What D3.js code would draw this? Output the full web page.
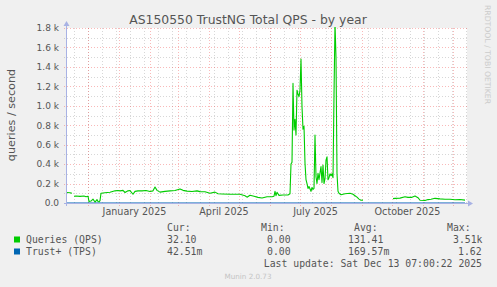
<!DOCTYPE html>
<html>
<head>
<meta charset="utf-8">
<script src="https://cdn.jsdelivr.net/npm/d3@7"></script>
<style>
  html, body { margin: 0; padding: 0; background: #f0f0f0; }
  svg { display: block; }
</style>
</head>
<body>
<div id="chart"></div>
<script>
// Queries (QPS), daily averages (null = no data)
const qpsDates = [
  "2024-11-10","2024-11-13","2024-11-15","2024-11-16","2024-11-17","2024-11-19","2024-11-23","2024-11-27","2024-11-29",
  "2024-12-01","2024-12-02","2024-12-04","2024-12-06","2024-12-08","2024-12-10","2024-12-11","2024-12-12","2024-12-13",
  "2024-12-14","2024-12-18","2024-12-23","2024-12-28","2024-12-31","2025-01-02","2025-01-05","2025-01-07","2025-01-10",
  "2025-01-12","2025-01-15","2025-01-17","2025-01-20","2025-01-24","2025-01-28","2025-02-01","2025-02-04","2025-02-06",
  "2025-02-08","2025-02-11","2025-02-16","2025-02-21","2025-02-26","2025-03-03","2025-03-06","2025-03-10","2025-03-15",
  "2025-03-20","2025-03-23","2025-03-28","2025-04-02","2025-04-07","2025-04-10","2025-04-14","2025-04-22","2025-05-02",
  "2025-05-07","2025-05-09","2025-05-12","2025-05-16","2025-05-20","2025-05-24","2025-05-29","2025-06-03","2025-06-05",
  "2025-06-06","2025-06-07","2025-06-08","2025-06-10","2025-06-14","2025-06-19","2025-06-21","2025-06-22","2025-06-23",
  "2025-06-24","2025-06-25","2025-06-26","2025-06-27","2025-06-28","2025-06-29","2025-06-30","2025-07-01","2025-07-02",
  "2025-07-03","2025-07-04","2025-07-05","2025-07-06","2025-07-07","2025-07-08","2025-07-09","2025-07-10","2025-07-12",
  "2025-07-13","2025-07-14","2025-07-15","2025-07-16","2025-07-17","2025-07-18","2025-07-19","2025-07-20","2025-07-22",
  "2025-07-23","2025-07-24","2025-07-25","2025-07-26","2025-07-27","2025-07-28","2025-07-29","2025-07-30","2025-07-31",
  "2025-08-01","2025-08-02","2025-08-03","2025-08-04","2025-08-05","2025-08-06","2025-08-07","2025-08-08","2025-08-09",
  "2025-08-11","2025-08-15","2025-08-20","2025-08-23","2025-08-25","2025-08-27","2025-08-29","2025-08-31","2025-09-02",
  "2025-09-03","2025-10-02","2025-10-04","2025-10-09","2025-10-14","2025-10-17","2025-10-21","2025-10-24","2025-10-27",
  "2025-10-29","2025-11-03","2025-11-06","2025-11-09","2025-11-13","2025-11-18","2025-11-23","2025-11-28","2025-12-03",
  "2025-12-08","2025-12-13"
];
const qpsValues = [
  108, 105, 100, null, 70, 72, 68, 72, 65,
  70, 15, 20, 40, 10, 35, 15, 12, 25,
  100, 105, 110, 125, 128, 125, 130, 108, 125,
  128, 90, 120, 125, 125, 128, 118, 125, 165,
  130, 112, 120, 125, 128, 145, 130, 122, 118,
  125, 117, 115, 100, 112, 95, 93, 90, 90,
  75, 60, 80, 70, 58, 52, 65, 65, 70,
  120, 75, 110, 78, 82, 82, 95, 400, 420,
  1230, 750, 860, 700, 1160, 1120, 1095, 1160, 1480,
  990, 760, 790, 410, 240, 200, 150, 170, 120,
  160, 140, 150, 700, 270, 200, 305, 240, 375,
  210, 390, 200, 250, 440, 475, 240, 260, 300,
  280, 300, 260, 1100, 1850, 1500, 300, 120, 100,
  85, 95, 100, 90, 75, 60, 40, 28, 30,
  null, 45, 48, 50, 65, 58, 58, 72, 55,
  28, 25, 35, 38, 48, 42, 38, 38, 34,
  36, 30
];

// Trust+ (TPS), stays far below one grid step
const tpsDates = ["2024-11-10","2025-02-01","2025-05-01","2025-07-01","2025-08-05","2025-10-01","2025-12-13"];
const tpsValues = [0.12, 0.15, 0.14, 0.30, 0.25, 0.10, 0.04];

const xLabelMonths = ["2025-01-01","2025-04-01","2025-07-01","2025-10-01"];
const yMajorTicks = [0, 200, 400, 600, 800, 1000, 1200, 1400, 1600, 1800];
const yMinorTicks = [100, 300, 500, 700, 900, 1100, 1300, 1500, 1700];

const seriesNames = ["Queries (QPS)", "Trust+ (TPS)"];
const seriesColors = ["#00cc00", "#0066b3"];
const curValues = ["32.10", "42.51m"];
const minValues = ["0.00", "0.00"];
const avgValues = ["131.41", "169.57m"];
const maxValues = ["3.51k", "1.62"];
const lastUpdate = "Last update: Sat Dec 13 07:00:22 2025";

const width = 497, height = 287;
const plotLeft = 67, plotRight = 467, plotTop = 28, plotBottom = 203;

const parse = d3.timeParse("%Y-%m-%d");
const start = new Date(2024, 10, 10), end = new Date(2025, 11, 15);

const x = d3.scaleTime().domain([start, end]).range([plotLeft, plotRight]);
const y = d3.scaleLinear().domain([0, 1800]).range([plotBottom, plotTop]);

const svg = d3.select("#chart").append("svg")
    .attr("width", width)
    .attr("height", height)
    .style("font-family", "'DejaVu Sans', sans-serif");

svg.append("rect").attr("width", width).attr("height", height).attr("fill", "#f0f0f0");
svg.append("rect")
    .attr("x", plotLeft).attr("y", plotTop)
    .attr("width", plotRight - plotLeft).attr("height", plotBottom - plotTop)
    .attr("fill", "#ffffff");

// grid
const minorColor = "rgba(140,140,140,0.35)";
const majorColor = "rgba(240,70,70,0.38)";
const grid = svg.append("g").attr("stroke-dasharray", "1,2").attr("stroke-width", 1);

const weekLines = d3.timeDay.range(new Date(2024, 10, 17), end, 14);
const monthLines = d3.timeMonth.range(d3.timeMonth.ceil(start), end);

grid.selectAll(".vminor").data(weekLines).join("line")
    .attr("x1", d => Math.round(x(d)) + 0.5).attr("x2", d => Math.round(x(d)) + 0.5)
    .attr("y1", plotTop).attr("y2", plotBottom + 2)
    .attr("stroke", minorColor);
grid.selectAll(".hminor").data(yMinorTicks).join("line")
    .attr("x1", plotLeft - 3).attr("x2", plotRight)
    .attr("y1", d => Math.round(y(d)) + 0.5).attr("y2", d => Math.round(y(d)) + 0.5)
    .attr("stroke", minorColor);
grid.selectAll(".vmajor").data(monthLines).join("line")
    .attr("x1", d => Math.round(x(d)) + 0.5).attr("x2", d => Math.round(x(d)) + 0.5)
    .attr("y1", plotTop).attr("y2", plotBottom + 3)
    .attr("stroke", majorColor);
grid.selectAll(".hmajor").data(yMajorTicks.slice(1)).join("line")
    .attr("x1", plotLeft - 3).attr("x2", plotRight)
    .attr("y1", d => Math.round(y(d)) + 0.5).attr("y2", d => Math.round(y(d)) + 0.5)
    .attr("stroke", majorColor);

// series
const plot = svg.append("g");
plot.append("clipPath").attr("id", "clip")
  .append("rect").attr("x", plotLeft).attr("y", plotTop - 1)
    .attr("width", plotRight - plotLeft).attr("height", plotBottom - plotTop + 1);

const line = d3.line()
    .defined(d => d[1] != null)
    .x(d => x(d[0]))
    .y(d => y(d[1]));

plot.append("path")
    .datum(tpsDates.map((d, i) => [parse(d), tpsValues[i]]))
    .attr("clip-path", "url(#clip)")
    .attr("fill", "none")
    .attr("stroke", seriesColors[1])
    .attr("d", line);

plot.append("path")
    .datum(qpsDates.map((d, i) => [parse(d), qpsValues[i]]))
    .attr("clip-path", "url(#clip)")
    .attr("fill", "none")
    .attr("stroke", seriesColors[0])
    .attr("stroke-width", 1.1)
    .attr("stroke-linejoin", "round")
    .attr("d", line);

// axes
const axisColor = "#a8b2e4";
svg.append("line")
    .attr("x1", plotLeft - 3).attr("x2", plotRight + 2)
    .attr("y1", plotBottom + 0.5).attr("y2", plotBottom + 0.5)
    .attr("stroke", axisColor);
svg.append("line")
    .attr("x1", plotLeft - 0.5).attr("x2", plotLeft - 0.5)
    .attr("y1", plotBottom + 3).attr("y2", plotTop - 3)
    .attr("stroke", axisColor);
svg.append("path")
    .attr("d", `M${plotRight + 1},${plotBottom - 2.5}L${plotRight + 6},${plotBottom + 0.5}L${plotRight + 1},${plotBottom + 3.5}Z`)
    .attr("fill", axisColor);
svg.append("path")
    .attr("d", `M${plotLeft - 3.5},${plotTop - 2}L${plotLeft - 0.5},${plotTop - 7}L${plotLeft + 2.5},${plotTop - 2}Z`)
    .attr("fill", axisColor);

const textColor = "#555";

// y labels
svg.append("g").selectAll("text").data(yMajorTicks).join("text")
    .attr("x", plotLeft - 8)
    .attr("y", d => y(d) + 3.3)
    .attr("text-anchor", "end")
    .attr("font-size", 9)
    .attr("fill", textColor)
    .text(d => d === 0 ? "0.0" : d3.format(".1f")(d / 1000) + " k");

// x labels, centred in their month
svg.append("g").selectAll("text").data(xLabelMonths.map(parse)).join("text")
    .attr("x", d => (x(d) + x(d3.timeMonth.offset(d, 1))) / 2)
    .attr("y", 215)
    .attr("text-anchor", "middle")
    .attr("font-size", 9.6)
    .attr("fill", textColor)
    .text(d => d3.timeFormat("%B %Y")(d));

// title
svg.append("text")
    .attr("x", 248).attr("y", 24)
    .attr("text-anchor", "middle")
    .attr("font-size", 12.4)
    .attr("fill", textColor)
    .text("AS150550 TrustNG Total QPS - by year");

svg.append("text")
    .attr("transform", "translate(15,115) rotate(-90)")
    .attr("text-anchor", "middle")
    .attr("font-size", 11.2)
    .attr("fill", textColor)
    .text("queries / second");

svg.append("text")
    .attr("transform", "translate(485,5) rotate(90)")
    .attr("font-size", 7.7)
    .attr("fill", "#cccccc")
    .text("RRDTOOL / TOBI OETIKER");

// legend
const legend = svg.append("g")
    .style("font-family", "'DejaVu Sans Mono', monospace")
    .attr("font-size", 9.8)
    .attr("fill", textColor);

const headers = [["Cur:", 167], ["Min:", 261], ["Avg:", 354], ["Max:", 447]];
legend.selectAll(".hdr").data(headers).join("text")
    .attr("x", d => d[1]).attr("y", 231)
    .text(d => d[0]);

seriesNames.forEach((name, i) => {
  const by = 243 + i * 12;
  legend.append("rect")
      .attr("x", 14).attr("y", by - 6.5)
      .attr("width", 6).attr("height", 6)
      .attr("fill", seriesColors[i]);
  legend.append("text").attr("x", 26).attr("y", by).text(name);
  legend.append("text").attr("x", 167).attr("y", by).text(curValues[i]);
  legend.append("text").attr("x", 267).attr("y", by).text(minValues[i]);
  legend.append("text").attr("x", 348).attr("y", by).text(avgValues[i]);
  legend.append("text").attr("x", i === 0 ? 453 : 458).attr("y", by).text(maxValues[i]);
});

legend.append("text")
    .attr("x", 482).attr("y", 267)
    .attr("text-anchor", "end")
    .text(lastUpdate);

svg.append("text")
    .attr("x", 248).attr("y", 279)
    .attr("text-anchor", "middle")
    .attr("font-size", 7.2)
    .attr("fill", "#c4c4c4")
    .text("Munin 2.0.73");
</script>
</body>
</html>
